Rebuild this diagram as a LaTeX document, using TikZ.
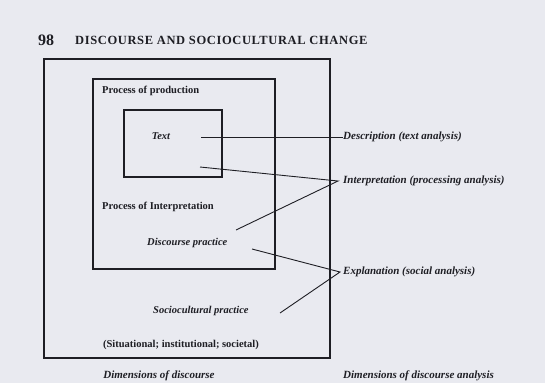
\documentclass[tikz,border=0pt]{standalone}
\usepackage{fontspec}
\setmainfont{Liberation Serif}

\definecolor{paper}{RGB}{233,234,240}
\definecolor{ink}{RGB}{30,30,36}

\tikzset{
  frame/.style={draw=ink, line width=1.1pt},
  pointer/.style={draw=ink, line width=0.9pt},
  lbl/.style={inner sep=0pt, text=ink, font=\fontsize{10.5}{12}\selectfont\bfseries},
  ilbl/.style={inner sep=0pt, text=ink, font=\fontsize{10.5}{12}\selectfont\bfseries\itshape},
  rlbl/.style={inner sep=0pt, anchor=west, text=ink, font=\fontsize{11}{13}\selectfont\bfseries\itshape},
  caplbl/.style={inner sep=0pt, text=ink, font=\fontsize{11}{13}\selectfont\bfseries\itshape},
}

\begin{document}
\begin{tikzpicture}[x=1pt,y=-1pt]
  \fill[paper] (0,0) rectangle (545,383); % page
  \useasboundingbox (0,0) rectangle (545,383);

  \node[lbl, font=\fontsize{16}{18}\selectfont\bfseries] (pagenum) at (46,40) {98};
  \node[lbl, anchor=west, font=\fontsize{12.5}{15}\selectfont\bfseries\addfontfeature{LetterSpace=5}] (runhead) at (75,40) {DISCOURSE AND SOCIOCULTURAL CHANGE};

  \draw[frame] (44,59) rectangle (330,358); % sociocultural practice
  \draw[frame] (93,79) rectangle (275,269); % discourse practice
  \draw[frame] (124,110) rectangle (222,177); % text

  \node[lbl, anchor=west] (prod) at (102,91) {Process of production};
  \node[ilbl] (text) at (161,136) {Text};
  \node[lbl, anchor=west] (interp) at (102,207) {Process of Interpretation};
  \node[ilbl, anchor=west] (discpr) at (147,243) {Discourse practice};
  \node[ilbl, anchor=west] (sociopr) at (153,311) {Sociocultural practice};
  \node[lbl] (levels) at (181,345) {(Situational; institutional; societal)};

  \node[rlbl] (descr) at (343,137) {Description (text analysis)};
  \node[rlbl] (interpr) at (343,181) {Interpretation (processing analysis)};
  \node[rlbl] (explan) at (343,272) {Explanation (social analysis)};

  \node[caplbl] (dimdisc) at (159,376) {Dimensions of discourse};
  \node[caplbl, anchor=west] (dimanal) at (343,376) {Dimensions of discourse analysis};

  \coordinate (textout) at (201,137);
  \coordinate (textlow) at (200,167);
  \coordinate (discout) at (236,230);
  \coordinate (disclow) at (252,249);
  \coordinate (sociout) at (280,313);

  \draw[pointer] (textout) -- (descr.west); % description
  \draw[pointer] (textlow) -- ([xshift=-5pt]interpr.west) -- (discout); % interpretation
  \draw[pointer] (disclow) -- ([xshift=-3pt]explan.west) -- (sociout); % explanation
\end{tikzpicture}
\end{document}
